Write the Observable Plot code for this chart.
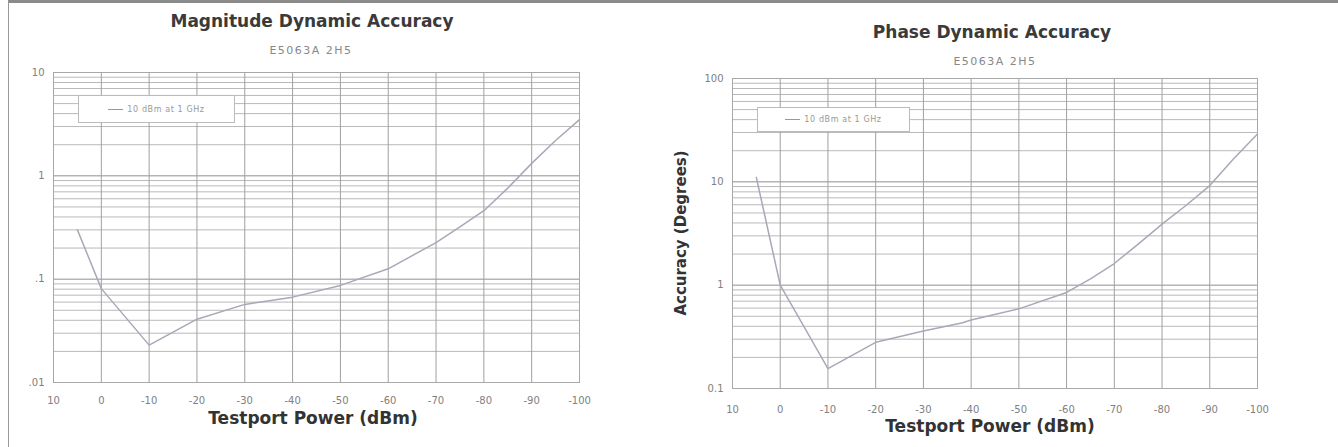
<!DOCTYPE html>
<html><head><meta charset="utf-8">
<script src="https://cdn.jsdelivr.net/npm/d3@7"></script>
<script src="https://cdn.jsdelivr.net/npm/@observablehq/plot@0.6"></script>
<style>
html,body{margin:0;padding:0;background:#fff;}
#page{position:relative;width:1338px;height:447px;overflow:hidden;font-family:"DejaVu Sans",sans-serif;}
.abs{position:absolute;white-space:nowrap;}
.title{font-weight:bold;font-size:17px;color:#3a3a3a;transform:translateX(-50%);}
.sub{font-size:11px;letter-spacing:1.5px;color:#888;transform:translateX(-50%);}
.xlab{font-weight:bold;font-size:17px;color:#333;transform:translateX(-50%);}
.legend{border:1px solid #bbb;background:#fff;font-size:8px;letter-spacing:0.6px;color:#999;display:flex;align-items:center;justify-content:center;box-sizing:border-box;}
.border{position:absolute;left:8px;top:0;width:1340px;height:460px;border-left:1px solid #999;border-top:3px solid #8a8a8a;box-sizing:border-box;}
</style></head>
<body><div id="page"><div class="border"></div></div>
<script>
// X tick values (dBm), shared
const xTicks = [10, 0, -10, -20, -30, -40, -50, -60, -70, -80, -90, -100];

// Magnitude dynamic accuracy
const magPower = [5, 0, -10, -20, -30, -40, -50, -60, -70, -75, -80, -85, -90, -95, -100];
const magValue = [0.30, 0.081, 0.023, 0.041, 0.057, 0.067, 0.087, 0.126, 0.226, 0.32, 0.46, 0.76, 1.32, 2.2, 3.5];
const magYTicks = [10, 1, 0.1, 0.01];
const magYLabels = ["10", "1", ".1", ".01"];

// Phase dynamic accuracy
const phPower = [5, 0, -10, -20, -30, -38, -40, -50, -60, -65, -70, -75, -80, -85, -90, -95, -100];
const phValue = [11, 1.0, 0.156, 0.28, 0.36, 0.43, 0.46, 0.59, 0.85, 1.15, 1.62, 2.5, 3.9, 5.9, 9.2, 16.7, 29];
const phYTicks = [100, 10, 1, 0.1];
const phYLabels = ["100", "10", "1", "0.1"];

const titles = ["Magnitude Dynamic Accuracy", "Phase Dynamic Accuracy"];
const subtitle = "E5063A 2H5";
const legendLabel = "10 dBm at 1 GHz";
const xTitle = "Testport Power (dBm)";
const yTitlePhase = "Accuracy (Degrees)";

function minorGrid(lo, hi) {
  const out = [];
  for (let e = Math.log10(lo); e < Math.log10(hi); e++)
    for (let k = 2; k <= 9; k++) out.push(k * Math.pow(10, e));
  return out;
}

function makeChart(power, value, yTicks, yLabels, domain, m, xPad) {
  const data = power.map((p, i) => ({p, v: value[i]}));
  return Plot.plot({
    width: 669, height: 447,
    marginLeft: m.l, marginRight: m.r, marginTop: m.t, marginBottom: m.b,
    style: {fontFamily: '"DejaVu Sans",sans-serif', background: "transparent"},
    x: {domain: [10, -100]},
    y: {type: "log", domain: domain},
    marks: [
      Plot.ruleY(minorGrid(domain[0], domain[1]), {stroke: "#b9b9b9", strokeWidth: 1}),
      Plot.ruleY(yTicks, {stroke: "#8f8f8f", strokeWidth: 1}),
      Plot.ruleX(xTicks, {stroke: "#a0a0a0", strokeWidth: 1}),
      Plot.frame({stroke: "#a8a8a8"}),
      Plot.line(data, {x: "p", y: "v", stroke: "#a8a8b8", strokeWidth: 1.5}),
      Plot.axisX({ticks: xTicks, tickSize: 0, tickPadding: xPad, fontSize: 10, color: "#808080", label: null, tickFormat: d => String(d)}),
      Plot.axisY({ticks: yTicks, tickSize: 0, tickPadding: 9, fontSize: 10, color: "#808080", label: null,
        tickFormat: d => yLabels[yTicks.indexOf(d)]})
    ]
  });
}

const page = document.getElementById("page");
function place(el, left, top) {
  const w = document.createElement("div");
  w.className = "abs"; w.style.left = left + "px"; w.style.top = top + "px";
  w.appendChild(el); page.appendChild(w); return w;
}
function text(cls, str, left, top) {
  const d = document.createElement("div");
  d.className = "abs " + cls; d.textContent = str;
  d.style.left = left + "px"; d.style.top = top + "px";
  page.appendChild(d); return d;
}

const c1 = makeChart(magPower, magValue, magYTicks, magYLabels, [0.01, 10], {l: 53, r: 90, t: 72, b: 65}, 14);
place(c1, 0, 0);
const c2 = makeChart(phPower, phValue, phYTicks, phYLabels, [0.1, 100], {l: 63, r: 81, t: 78, b: 59}, 17);
place(c2, 669, 0);

text("title", titles[0], 312, 11);
text("sub", subtitle, 311, 44);
text("title", titles[1], 992, 22);
text("sub", subtitle, 995, 55);
text("xlab", xTitle, 313, 408);
text("xlab", xTitle, 990, 416);

const yl = text("", yTitlePhase, 0, 0);
yl.style.cssText += "font-weight:bold;font-size:15px;color:#333;left:681px;top:233px;transform:translate(-50%,-50%) rotate(-90deg);";

function legend(left, top, w, h) {
  const d = document.createElement("div");
  d.className = "abs legend";
  d.style.left = left + "px"; d.style.top = top + "px"; d.style.width = w + "px"; d.style.height = h + "px";
  d.innerHTML = '<span style="display:inline-block;width:15px;border-top:1px solid #999;margin-right:4px;vertical-align:middle"></span>';
  d.appendChild(document.createTextNode(legendLabel));
  page.appendChild(d);
}
legend(78, 95, 157, 28);
legend(757, 107, 153, 25);
</script>
</body></html>
